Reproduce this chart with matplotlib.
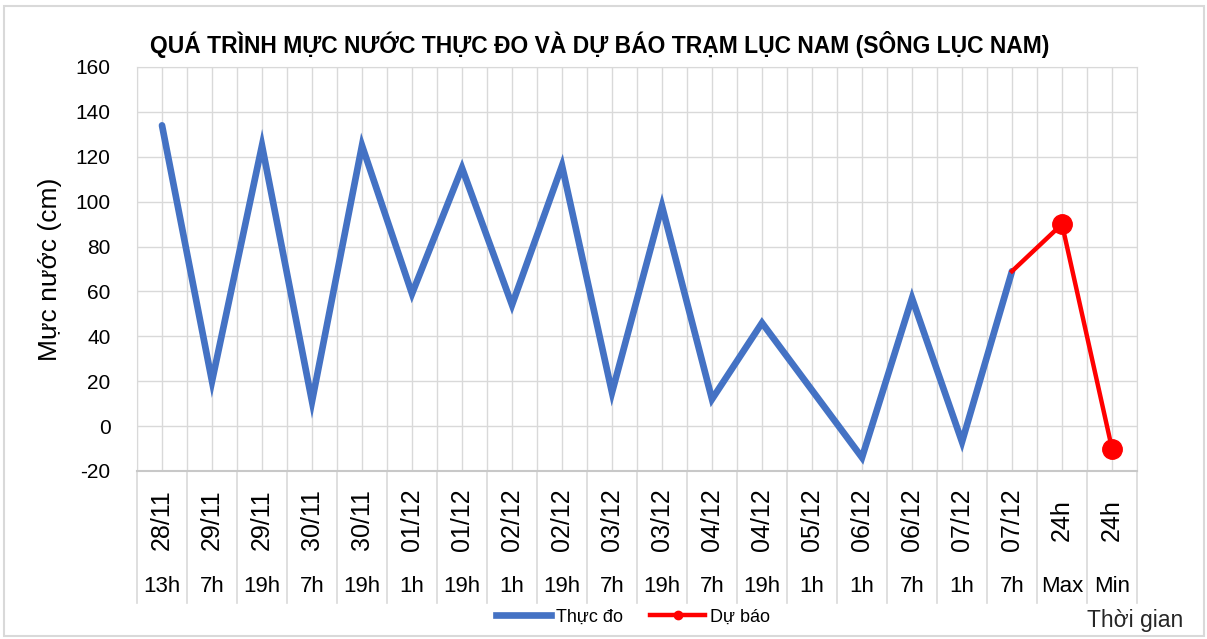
#!/usr/bin/env python3
# -*- coding: utf-8 -*-
"""Water level chart, Luc Nam station: observed vs forecast."""

import numpy as np
import matplotlib
matplotlib.use("Agg")
import matplotlib.pyplot as plt
from matplotlib.patches import Rectangle
from matplotlib.lines import Line2D
import matplotlib.transforms as mtransforms

plt.rcParams["font.family"] = ["Liberation Sans", "DejaVu Sans"]
plt.rcParams["axes.unicode_minus"] = False

DATES = ["28/11", "29/11", "29/11", "30/11", "30/11", "01/12", "01/12",
         "02/12", "02/12", "03/12", "03/12", "04/12", "04/12", "05/12",
         "06/12", "06/12", "07/12", "07/12", "24h", "24h"]
HOURS = ["13h", "7h", "19h", "7h", "19h", "1h", "19h", "1h", "19h", "7h",
         "19h", "7h", "19h", "1h", "1h", "7h", "1h", "7h", "Max", "Min"]
OBSERVED = [134, 20, 125, 11, 125, 59, 115, 54, 116, 15, 98, 12, 46, 16,
            -14, 57, -7, 69, np.nan, np.nan]
FORECAST = [np.nan] * 17 + [69, 90, -10]

BLUE = "#4472C4"
RED = "#FF0000"
GRID = "#d9d9d9"
TEXT = "#000000"

W, H = 1207, 639
fig = plt.figure(figsize=(W / 100, H / 100), dpi=100)
ax = fig.add_axes([137 / W, 1 - 471 / H, 1000 / W, 404 / H])

x = np.arange(len(HOURS))
ax.plot(x, OBSERVED, color=BLUE, lw=4.8, solid_joinstyle="miter",
        solid_capstyle="round", zorder=3)
ax.plot(x, FORECAST, color=RED, lw=3.2, zorder=4)
ax.plot(x[18:], FORECAST[18:], ls="none", marker="o", ms=14, color=RED, zorder=5)

ax.set_xlim(-0.5, len(HOURS) - 0.5)
ax.set_ylim(-20, 160)
ax.set_yticks(np.arange(-20, 161, 20))
ax.set_xticks(x)
ax.set_xticks(np.arange(-0.5, len(HOURS), 1.0), minor=True)
ax.set_xticklabels([])
ax.tick_params(axis="x", which="both", length=0)
ax.tick_params(axis="y", length=0, labelsize=15, colors=TEXT, pad=19)
ax.grid(True, which="both", color=GRID, lw=1.0)
ax.set_axisbelow(True)
for side in ["top", "right", "left"]:
    ax.spines[side].set_color(GRID)
ax.spines["bottom"].set_color("#c8c8c8")
ax.spines["bottom"].set_linewidth(1.5)

ax.set_ylabel("Mực nước (cm)", fontsize=19, color=TEXT, labelpad=10)

# category table below the axis
trans = mtransforms.blended_transform_factory(ax.transData, ax.transAxes)
for xi in np.arange(-0.5, len(HOURS), 1.0):
    ax.add_line(Line2D([xi, xi], [0, -0.327], transform=trans, color=GRID,
                       lw=1.2, clip_on=False))
for xi, d, h in zip(x, DATES, HOURS):
    ax.text(xi, -0.121, d, transform=trans, rotation=90, ha="center",
            va="center", fontsize=18, color=TEXT)
    ax.text(xi, -0.285, h, transform=trans, ha="center", va="center",
            fontsize=16, color=TEXT)

fig.text(600 / W, 1 - 45 / H,
         "QUÁ TRÌNH MỰC NƯỚC THỰC ĐO VÀ DỰ BÁO TRẠM LỤC NAM (SÔNG LỤC NAM)",
         ha="center", va="center", fontsize=16.5, fontweight="bold", color=TEXT)
fig.text(1135 / W, 1 - 620 / H, "Thời gian", ha="center", va="center",
         fontsize=16.5, color="#262626")

handles = [Line2D([], [], color=BLUE, lw=4.8),
           Line2D([], [], color=RED, lw=3.2, marker="o", ms=6)]
fig.legend(handles, ["Thực đo", "Dự báo"], loc="center",
           bbox_to_anchor=(633 / W, 1 - 617 / H), ncol=2, frameon=False,
           fontsize=13, handlelength=3.05, columnspacing=1.5,
           handletextpad=0.28, borderpad=0.2)

fig.add_artist(Rectangle((4 / W, 3 / H), 1200 / W, 630 / H,
                         transform=fig.transFigure, fill=False,
                         edgecolor=GRID, lw=1.5))

fig.savefig("out.png", dpi=100)
